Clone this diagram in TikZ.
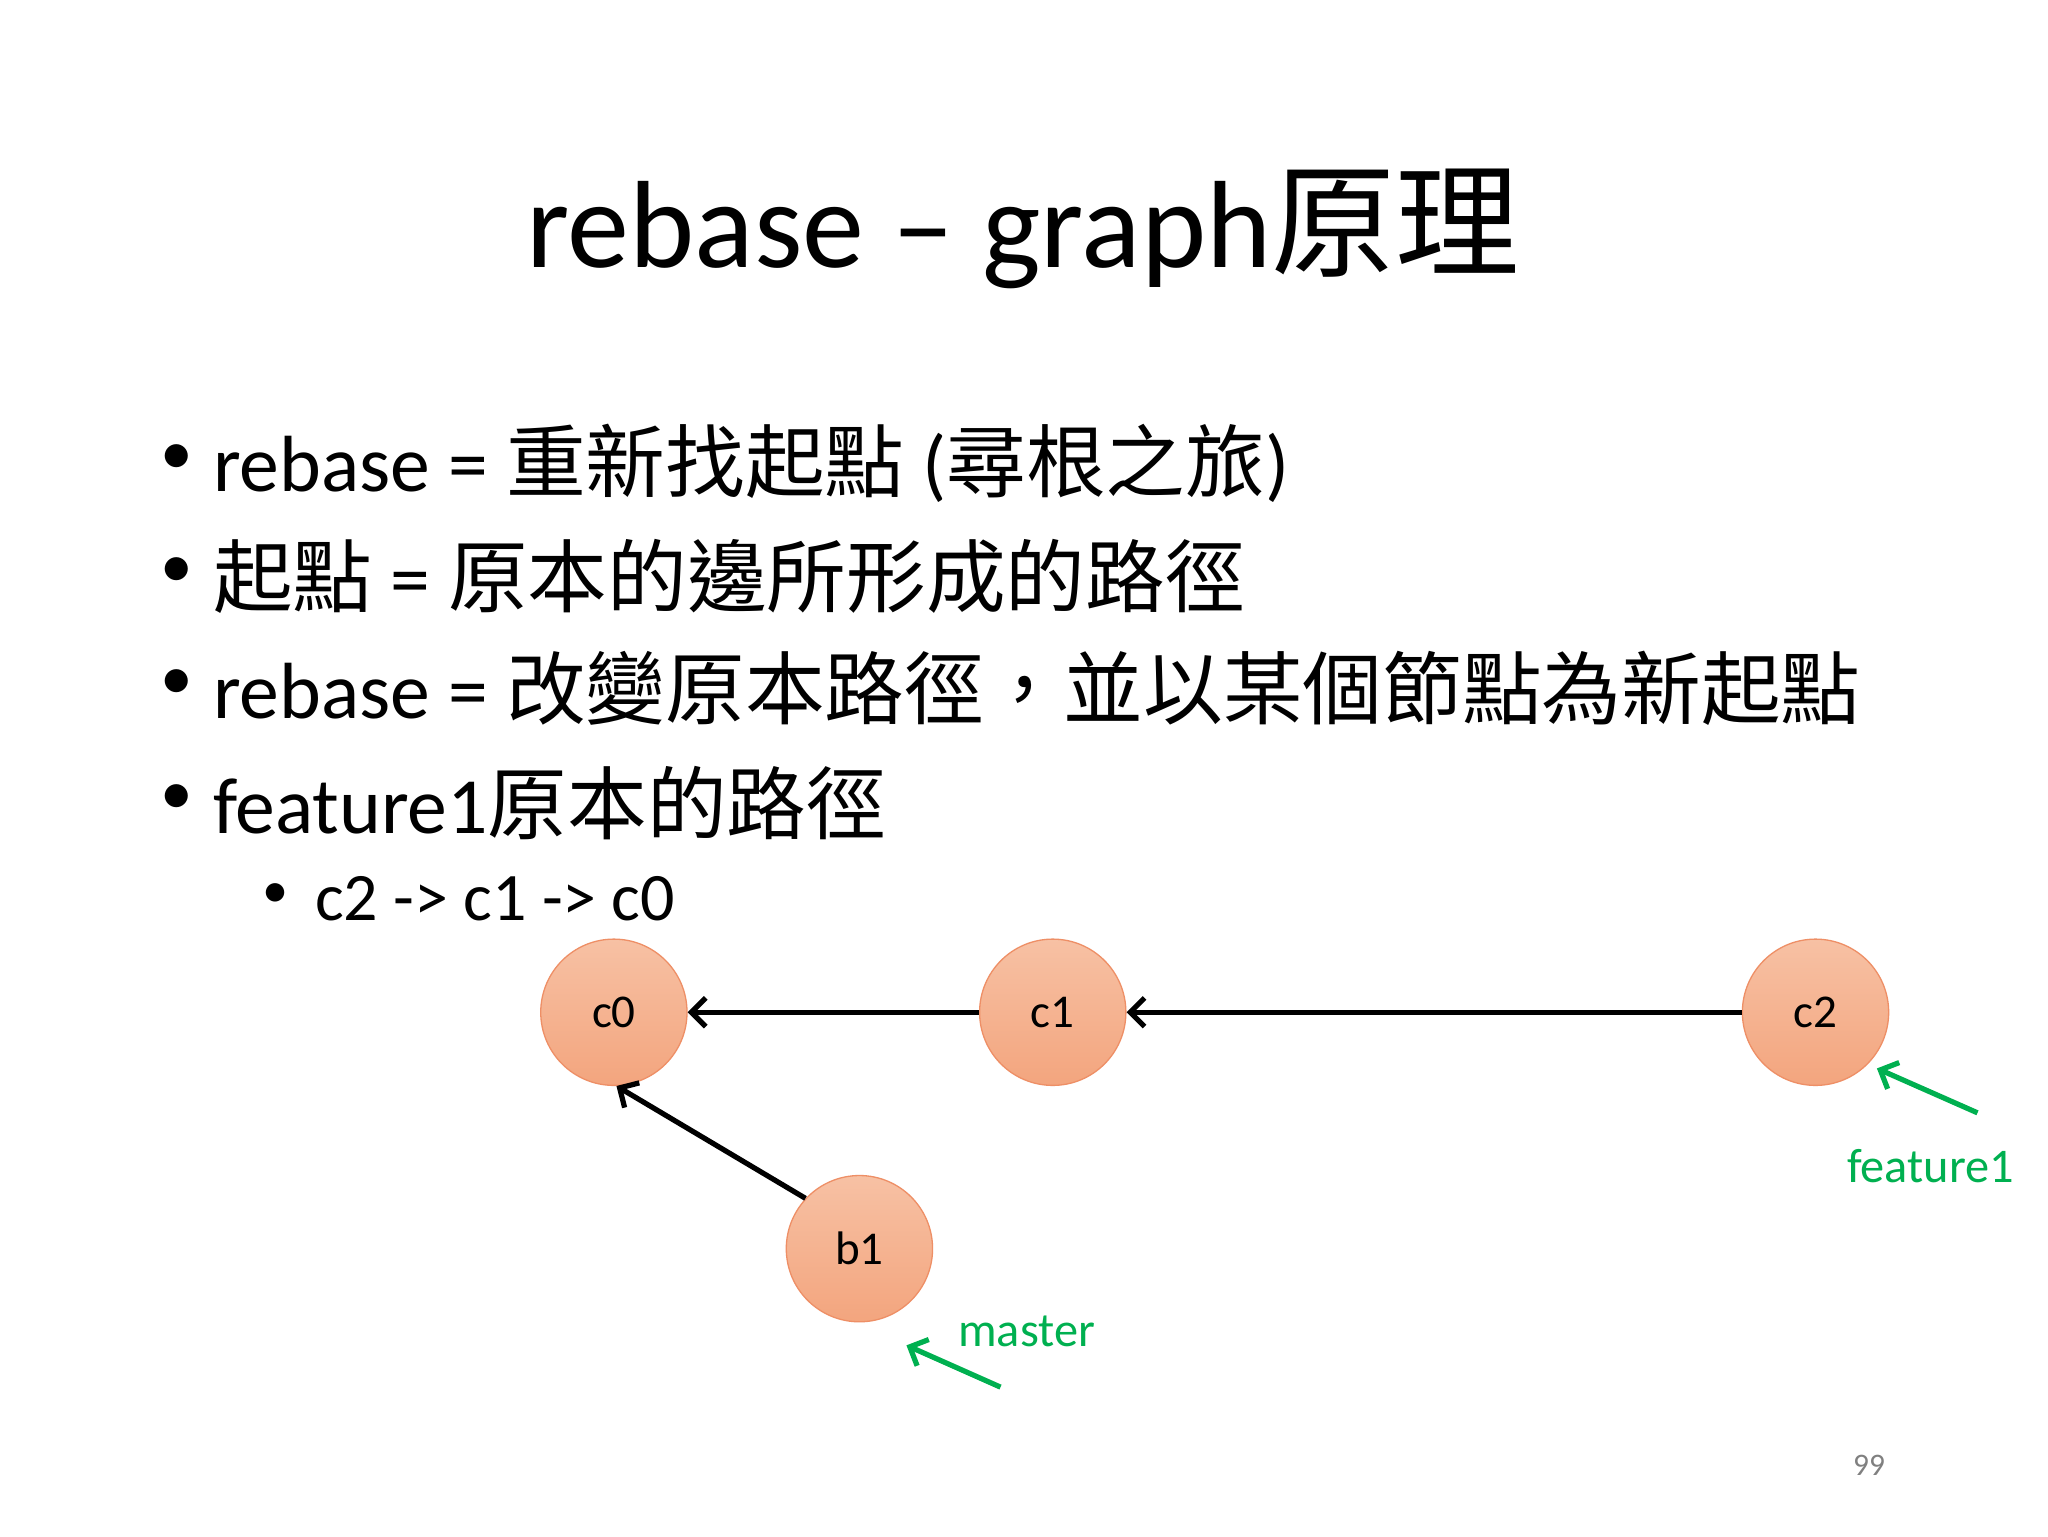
\documentclass[tikz,border=0pt]{standalone}
\usepackage{fontspec}
\setmainfont{Carlito}
\newfontfamily\cjk{Noto Sans CJK TC}
\usetikzlibrary{arrows.meta}
\definecolor{nodeedge}{HTML}{EE8F66}
\definecolor{nodetop}{HTML}{F7C1A4}
\definecolor{nodebot}{HTML}{F3A57E}
\definecolor{grn}{HTML}{00B050}
\tikzset{
  commit/.style={circle,draw=nodeedge,line width=1pt,top color=nodetop,bottom color=nodebot,minimum size=112pt,inner sep=0pt,font=\fontsize{36}{42}\selectfont},
  edge/.style={line width=4pt,-{Straight Barb[length=11pt,width=22pt,line width=4pt]}},
  gedge/.style={grn,line width=4pt,-{Straight Barb[length=11pt,width=22pt,line width=4pt]}},
  btxt/.style={anchor=west,inner sep=0pt,font=\fontsize{61}{70}\selectfont},
  bul/.style={inner sep=0pt,font=\fontsize{50}{60}\selectfont}
}
\begin{document}
\begin{tikzpicture}[x=1pt,y=-1pt]
\useasboundingbox[fill=white] (0,0) rectangle (1568,1176);
\node[font=\fontsize{95}{108}\selectfont] (title) at (783,175) {rebase – graph{\cjk 原理}};
\node[bul] (b1d) at (135,352) {•};
\node[btxt] (l1) at (163,355) {rebase = {\cjk 重新找起點} ({\cjk 尋根之旅})};
\node[bul] (b2d) at (135,438) {•};
\node[btxt] (l2) at (163,441) {{\cjk 起點} = {\cjk 原本的邊所形成的路徑}};
\node[bul] (b3d) at (135,524) {•};
\node[btxt] (l3) at (163,527) {rebase = {\cjk 改變原本路徑，並以某個節點為新起點}};
\node[bul] (b4d) at (135,612) {•};
\node[btxt] (l4) at (163,615) {feature1{\cjk 原本的路徑}};
\node[inner sep=0pt,font=\fontsize{40}{48}\selectfont] (b5d) at (211,686) {•};
\node[btxt,font=\fontsize{52}{60}\selectfont] (l5) at (241,688) {c2 -> c1 -> c0};
\node[commit] (c0) at (470,775) {c0};
\node[commit] (c1) at (806,775) {c1};
\node[commit] (c2) at (1390,775) {c2};
\node[commit] (b1) at (658,956) {b1};
\draw[edge] (c1) -- (c0);
\draw[edge] (c2) -- (c1);
\draw[edge] (b1.137) -- (c0.-88);
\node[grn,inner sep=0pt,font=\fontsize{37}{42}\selectfont] (f1) at (1478,893) {feature1};
\node[grn,inner sep=0pt,font=\fontsize{37}{42}\selectfont] (ms) at (786,1019) {master};
\coordinate (fa) at (1514,852);
\coordinate (ma) at (766,1062);
\draw[gedge] (fa) -- (1437,818);
\draw[gedge] (ma) -- (694,1030);
\node[gray,font=\fontsize{24}{28}\selectfont] (pg) at (1431,1122) {99};
\end{tikzpicture}
\end{document}
